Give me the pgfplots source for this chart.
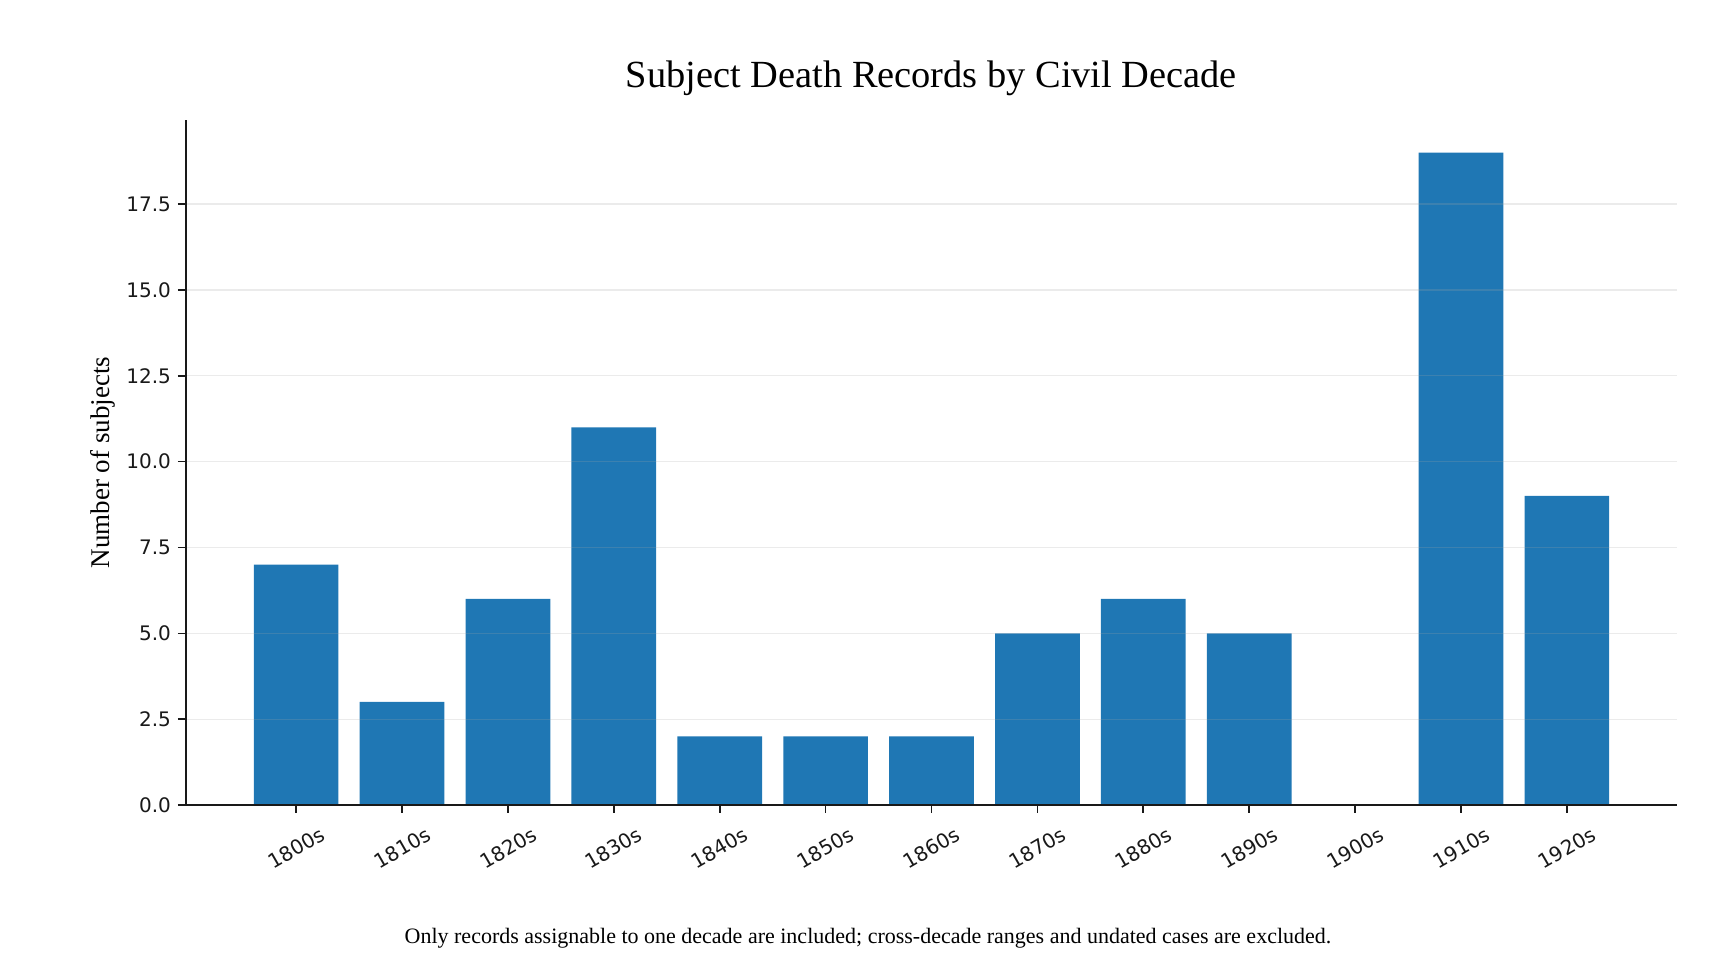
\documentclass[border=0pt]{standalone}
\usepackage{fontspec}
\setmainfont{Liberation Serif}
\newfontfamily\ticksfont{DejaVu Sans}
\usepackage{pgfplots}
\pgfplotsset{compat=1.18}
\definecolor{barblue}{HTML}{1F77B4}

\pgfplotstableread{
x count
0 7
1 3
2 6
3 11
4 2
5 2
6 2
7 5
8 6
9 5
10 0
11 19
12 9
}\decades

\begin{document}
\begin{tikzpicture}
\path[use as bounding box] (-93pt,-79pt) rectangle (775pt,402.5pt);
\begin{axis}[
  scale only axis,
  width=745.5pt, height=342.5pt,
  xmin=-1.04, xmax=13.04,
  ymin=0, ymax=19.95,
  axis lines*=left,
  axis line style={line width=0.8pt, black!90},
  axis on top,
  xtick=data,
  xticklabels={1800s,1810s,1820s,1830s,1840s,1850s,1860s,1870s,1880s,1890s,1900s,1910s,1920s},
  ytick={0,2.5,...,17.5},
  tick align=outside,
  major tick length=4pt,
  tick style={line width=0.8pt, black!90},
  xtick pos=bottom, ytick pos=left,
  ymajorgrids,
  grid style={line width=0.65pt, black!35, opacity=0.22},
  /pgf/number format/.cd, fixed, fixed zerofill, precision=1, assume math mode=true,
  /pgfplots/.cd,
  yticklabel style={font=\ticksfont\fontsize{10}{11}\selectfont, text=black!90},
  xticklabel style={font=\ticksfont\fontsize{10}{11}\selectfont, text=black!90,
    anchor=center, yshift=-17.5pt, rotate=30},
  clip=false,
]
\addplot[ybar, bar width=0.8, fill=barblue, draw=none] table[x=x, y=count] {\decades};

\node[font=\fontsize{19.2}{22}\selectfont] at (rel axis cs:0.5,1) [yshift=21pt] {Subject Death Records by Civil Decade};
\node[font=\fontsize{13.5}{15}\selectfont, xshift=-41.5pt, rotate=90] at (rel axis cs:0,0.5) {Number of subjects};
\end{axis}
\node[font=\fontsize{11}{13}\selectfont] at (341pt,-66.5pt) {Only records assignable to one decade are included; cross-decade ranges and undated cases are excluded.};
\end{tikzpicture}
\end{document}
